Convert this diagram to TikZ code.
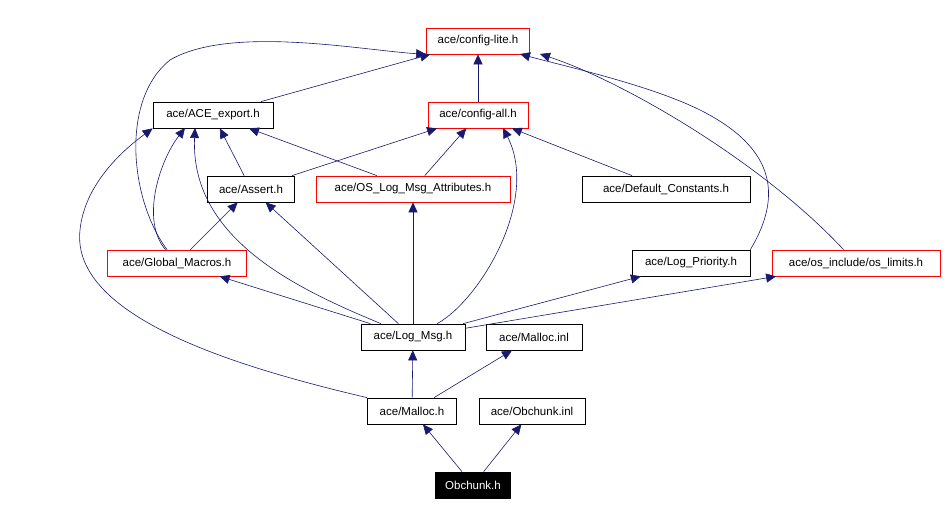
\documentclass[tikz,border=0pt]{standalone}
\usepackage{fontspec}
\setmainfont{Liberation Sans}
\usetikzlibrary{arrows.meta}
\definecolor{edge}{RGB}{25,25,112}
\begin{document}
\begin{tikzpicture}[x=1pt,y=-1pt,
 box/.style={draw=black,fill=white,minimum height=26pt,inner xsep=2pt,font=\fontsize{11.5}{13}\selectfont,line width=0.7pt},
 red/.style={box,draw=red},
 e/.style={draw=edge,line width=0.6pt,-{Triangle[length=10pt,width=9pt]}}]
\useasboundingbox (0,0) rectangle (944,518);
\node[red,minimum width=103pt] (cl) at (478,41) {ace/config-lite.h};
\node[box,minimum width=120pt] (ae) at (213,115) {ace/ACE\_export.h};
\node[red,minimum width=100pt] (ca) at (478,115) {ace/config-all.h};
\node[box,minimum width=87pt] (as) at (251,189) {ace/Assert.h};
\node[red,minimum width=194pt] (os) at (413,189) {ace/OS\_Log\_Msg\_Attributes.h};
\node[box,minimum width=168pt] (dc) at (666,189) {ace/Default\_Constants.h};
\node[red,minimum width=139pt] (gm) at (177,263) {ace/Global\_Macros.h};
\node[box,minimum width=118pt] (lp) at (691,263) {ace/Log\_Priority.h};
\node[red,minimum width=168pt] (ol) at (856,263) {ace/os\_include/os\_limits.h};
\node[box,minimum width=104pt] (lm) at (413,337) {ace/Log\_Msg.h};
\node[box,minimum width=96pt] (mi) at (534,337) {ace/Malloc.inl};
\node[box,minimum width=89pt] (mh) at (412,411) {ace/Malloc.h};
\node[box,minimum width=106pt] (oi) at (532,411) {ace/Obchunk.inl};
\node[box,fill=black,text=white,minimum width=75pt] (oh) at (473,485) {Obchunk.h};
\draw[e] (oh) -- (mh);
\draw[e] (oh) -- (oi);
\draw[e] (mh) -- (lm);
\draw[e] (mh) -- (mi);
\draw[e] (mh.north west) .. controls (250,370) and (70,320) .. (80,230) .. controls (85,180) and (130,145) .. (ae.south west);
\draw[e] (lm) -- (gm);
\draw[e] (lm) -- (as);
\draw[e] (lm) -- (os);
\draw[e] (lm) .. controls (300,290) and (190,240) .. (195,128);
\draw[e] (lm) .. controls (480,300) and (540,200) .. (503,128);
\draw[e] (lm) -- (lp);
\draw[e] (lm) -- (ol);
\draw[e] (gm) -- (as);
\draw[e] (gm) .. controls (140,220) and (160,160) .. (185,128);
\draw[e] (gm) .. controls (130,200) and (120,100) .. (170,60) .. controls (230,25) and (360,50) .. (cl.south west);
\draw[e] (as) -- (ae);
\draw[e] (as) -- (ca);
\draw[e] (os) -- (ae);
\draw[e] (os) -- (ca);
\draw[e] (dc) -- (ca);
\draw[e] (ae) -- (cl);
\draw[e] (ca) -- (cl);
\draw[e] (lp.north east) .. controls (780,200) and (780,150) .. (700,110) .. controls (650,85) and (560,65) .. (520,54);
\draw[e] (ol) .. controls (760,160) and (620,80) .. (540,54);
\end{tikzpicture}
\end{document}
